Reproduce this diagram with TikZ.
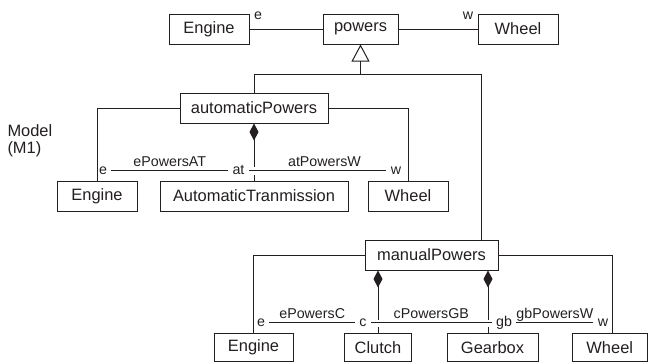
\documentclass[tikz,border=0pt]{standalone}
\usepackage{fontspec}
\setmainfont{Liberation Sans}
\usetikzlibrary{arrows.meta}
\definecolor{ink}{RGB}{35,31,32}
\begin{document}
\begin{tikzpicture}[x=1bp,y=-1bp, color=ink, line width=1bp,
  cls/.style={draw, fill=white, minimum height=30bp, inner sep=0pt,
    font=\fontsize{16.5}{18}\selectfont},
  role/.style={inner xsep=4bp, inner ysep=0pt, text height=1.7ex, text depth=0.15ex,
    anchor=base, font=\fontsize{14.3}{16}\selectfont},
  assoc/.style={anchor=base, yshift=4bp, inner sep=0pt,
    font=\fontsize{14.3}{16}\selectfont},
  comp/.style={{Diamond[length=17bp,width=9bp]}-},
  gen/.style={{Triangle[open,length=17bp,width=18bp]}-}
]
\useasboundingbox (0,0) rectangle (648,362);

% top level association
\node[cls, minimum width=80bp] (engT) at (209,29) {Engine};
\node[cls, minimum width=75bp] (pow)  at (360.5,29) {powers};
\node[cls, minimum width=80bp] (whT)  at (518,29) {Wheel};
\draw (engT) -- (pow);
\draw (pow) -- (whT);
\node[role] (rTe) at (258,19.7) {e};
\node[role] (rTw) at (468,19.7) {w};

% generalisation tree
\coordinate (g) at (360.5,74);
\node[cls, minimum width=148bp] (autoP) at (254,108) {automaticPowers};
\node[cls, minimum width=133bp] (manP)  at (431.5,255) {manualPowers};
\coordinate (mTop) at (481,240);
\draw[gen] (pow.south) -- (g);
\draw (autoP.north) |- (g);
\draw (g) -| (mTop);

% label
\node[align=left, anchor=west, inner sep=0pt,
      font=\fontsize{16.5}{17}\selectfont] (model) at (7,141) {Model\\(M1)};

% automatic powers
\node[cls, minimum width=80bp]  (engA) at (97,196)  {Engine};
\node[cls, minimum width=188bp] (atA)  at (254,196) {AutomaticTranmission};
\node[cls, minimum width=80bp]  (whA)  at (408,196) {Wheel};
\draw (autoP.west) -| (engA.north);
\draw (autoP.east) -| (whA.north);
\node[role] (rE1) at (103,174.2) {e};
\node[role] (rAT) at (238.5,174.2) {at};
\node[role] (rW1) at (396,174.2) {w};
\draw (rE1.east) -- node[assoc] {ePowersAT} (rAT.west);
\draw (rAT.east) -- node[assoc, pos=.55] {atPowersW} (rW1.west);
\coordinate (aG1) at (254,167);
\coordinate (aG2) at (254,175);
\draw[comp] (autoP.south) -- (aG1);
\draw (aG2) -- (atA.north);

% manual powers
\node[cls, minimum width=79bp, minimum height=28.5bp] (engM) at (253.5,347.25) {Engine};
\node[cls, minimum width=67bp, minimum height=28.5bp] (clM)  at (378,347.25)   {Clutch};
\node[cls, minimum width=91bp, minimum height=28.5bp] (gbM)  at (492.5,347.25) {Gearbox};
\node[cls, minimum width=75.5bp, minimum height=28.5bp] (whM) at (609.75,347.25) {Wheel};
\coordinate (wTop) at (612,333);
\draw (manP.west) -| (engM.north);
\draw (manP.east) -| (wTop);
\node[role] (rE2) at (261,326.7) {e};
\node[role] (rC)  at (363,326.7) {c};
\node[role] (rGB) at (504,326.7) {gb};
\node[role] (rW2) at (603,326.7) {w};
\draw (rE2.east) -- node[assoc] {ePowersC} (rC.west);
\draw (rC.east) -- node[assoc] {cPowersGB} (rGB.west);
\draw (rGB.east) -- node[assoc] {gbPowersW} (rW2.west);
\coordinate (cG1) at (378,319.5);
\coordinate (cG2) at (378,327);
\coordinate (gG1) at (488,319.5);
\coordinate (gG2) at (488,327);
\draw[comp] (manP.south -| cG1) -- (cG1);
\draw (cG2) -- (clM.north);
\draw[comp] (manP.south -| gG1) -- (gG1);
\draw (gG2) -- (gbM.north -| gG2);
\end{tikzpicture}
\end{document}
